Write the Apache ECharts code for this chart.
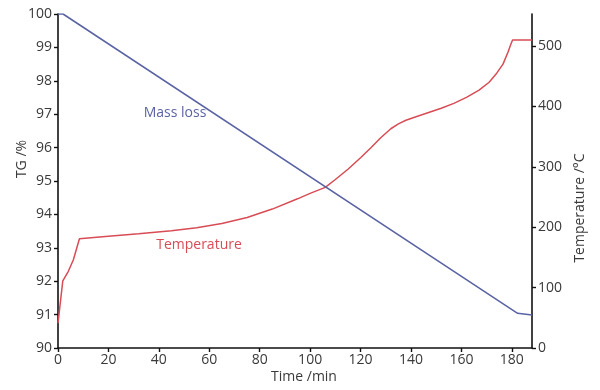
<!DOCTYPE html>
<html>
<head>
<meta charset="utf-8">
<script src="https://cdn.jsdelivr.net/npm/echarts@6/dist/echarts.min.js"></script>
<style>html,body{margin:0;padding:0;background:#fff}#c{width:600px;height:390px}</style>
</head>
<body>
<div id="c"></div>
<script>
// Data
var timeTicks = [0, 20, 40, 60, 80, 100, 120, 140, 160, 180];
var tgTicks = [90, 91, 92, 93, 94, 95, 96, 97, 98, 99, 100];
var tempTicks = [0, 100, 200, 300, 400, 500];
var massTime = [0, 2, 182.3, 188];
var massTG = [100, 100, 91.04, 90.99];
var tempTime = [0, 1.9, 4.1, 6.1, 8.5, 20, 32, 45, 55, 65, 75, 85, 95, 100, 106, 110, 115, 120, 124, 128, 132, 135, 138, 142, 147, 152, 157, 162, 167, 171, 174, 176.5, 178.5, 179.6, 180.3, 188];
var tempC = [41, 111, 127, 146, 181, 185, 189, 194, 199, 206, 216, 230, 247, 256, 266, 279, 296, 315, 331, 348, 363, 371, 377, 383, 390, 397, 405, 415, 427, 440, 455, 470, 490, 503, 510, 510];

function zip(a, b) { return a.map(function (v, i) { return [v, b[i]]; }); }

var FONT = '"Open Sans", "Noto Sans", sans-serif';
var TXT = '#3a3a3a';
var chart = echarts.init(document.getElementById('c'), null, { renderer: 'canvas' });
chart.setOption({
  animation: false,
  backgroundColor: '#fff',
  grid: { left: 58, right: 68, top: 14, bottom: 42, containLabel: false },
  xAxis: {
    type: 'value', min: 0, max: 188, interval: 20,
    axisLine: { show: true, onZero: false, lineStyle: { color: '#111', width: 1.6 } },
    axisTick: { show: true, length: 4, lineStyle: { color: '#111', width: 1.4 }, customValues: timeTicks },
    axisLabel: { color: TXT, fontSize: 14, fontFamily: FONT, margin: 5, customValues: timeTicks },
    splitLine: { show: false }
  },
  yAxis: [{
    type: 'value', min: 90, max: 100, interval: 1, position: 'left',
    axisLine: { show: true, onZero: false, lineStyle: { color: '#111', width: 1.6 } },
    axisTick: { show: true, length: 4, lineStyle: { color: '#111', width: 1.4 }, customValues: tgTicks },
    axisLabel: { color: TXT, fontSize: 14, fontFamily: FONT, margin: 6, customValues: tgTicks },
    splitLine: { show: false }
  }, {
    type: 'value', min: 0, max: 553, position: 'right',
    axisLine: { show: true, onZero: false, lineStyle: { color: '#111', width: 1.6 } },
    axisTick: { show: true, length: 4, lineStyle: { color: '#111', width: 1.4 }, customValues: tempTicks },
    axisLabel: { color: TXT, fontSize: 14, fontFamily: FONT, margin: 6, customValues: tempTicks },
    splitLine: { show: false }
  }],
  graphic: [
    { type: 'text', x: 304, y: 377,
      style: { text: 'Time /min', fill: TXT, font: '14px ' + FONT, align: 'center', verticalAlign: 'middle' } },
    { type: 'text', x: 22, y: 159, rotation: Math.PI / 2,
      style: { text: 'TG /%', fill: TXT, font: '14px ' + FONT, align: 'center', verticalAlign: 'middle' } },
    { type: 'text', x: 580, y: 208, rotation: Math.PI / 2,
      style: { text: 'Temperature /°C', fill: TXT, font: '14px ' + FONT, align: 'center', verticalAlign: 'middle' } },
    { type: 'text', x: 175, y: 113,
      style: { text: 'Mass loss', fill: '#5a63a3', font: '14px ' + FONT, align: 'center', verticalAlign: 'middle' } },
    { type: 'text', x: 199, y: 245,
      style: { text: 'Temperature', fill: '#d84c55', font: '14px ' + FONT, align: 'center', verticalAlign: 'middle' } }
  ],
  series: [{
    name: 'Mass loss', type: 'line', yAxisIndex: 0, data: zip(massTime, massTG),
    showSymbol: false, lineStyle: { color: '#5a63a3', width: 1.5 }, z: 3
  }, {
    name: 'Temperature', type: 'line', yAxisIndex: 1, data: zip(tempTime, tempC),
    showSymbol: false, smooth: false, lineStyle: { color: '#d84c55', width: 1.5 }, z: 2
  }]
});
</script>
</body>
</html>
